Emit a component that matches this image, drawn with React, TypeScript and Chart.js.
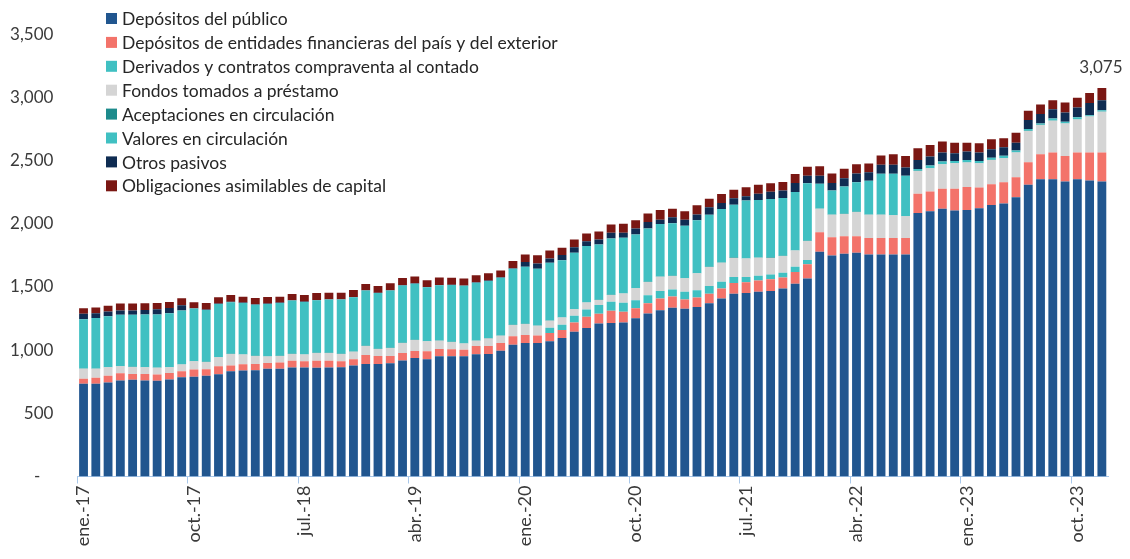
import { useEffect, useRef } from "react";
import { Chart, registerables } from "chart.js";

Chart.register(...registerables);

// ---- Data (miles de millones) ----
const MONTHS = ["ene.", "feb.", "mar.", "abr.", "may.", "jun.", "jul.", "ago.", "sept.", "oct.", "nov.", "dic."];
const YEARS = ["17", "18", "19", "20", "21", "22", "23"];
const categories: string[] = YEARS.flatMap((y) => MONTHS.map((m) => `${m}-${y}`));
const LABEL_EVERY = 9;

const depositosPublico = [
  734, 734, 744, 760, 765, 760, 757, 768, 786, 789, 797, 810,
  833, 839, 841, 852, 852, 862, 862, 860, 862, 865, 878, 891,
  891, 896, 917, 938, 928, 951, 951, 951, 967, 970, 996, 1043,
  1056, 1056, 1070, 1096, 1146, 1175, 1211, 1214, 1219, 1253, 1290, 1316,
  1335, 1327, 1342, 1371, 1408, 1447, 1453, 1461, 1468, 1487, 1526, 1566,
  1778, 1749, 1762, 1770, 1757, 1757, 1757, 1757, 2085, 2098, 2119, 2104,
  2109, 2122, 2148, 2161, 2209, 2308, 2353, 2353, 2335, 2353, 2342, 2335,
];
const depositosEntidades = [
  39, 47, 53, 58, 47, 52, 50, 52, 47, 57, 52, 63,
  45, 49, 50, 47, 50, 53, 50, 55, 53, 47, 50, 71,
  63, 58, 60, 55, 63, 58, 55, 52, 66, 63, 60, 66,
  63, 60, 66, 63, 73, 89, 77, 97, 84, 79, 81, 92,
  89, 74, 74, 76, 79, 84, 84, 89, 92, 87, 92, 113,
  155, 144, 139, 131, 131, 131, 131, 131, 152, 158, 158, 173,
  181, 165, 165, 168, 160, 179, 197, 210, 202, 210, 221, 228,
];
const derivados = [
  0, 0, 0, 0, 0, 0, 0, 0, 0, 0, 0, 0,
  0, 0, 0, 0, 0, 0, 0, 0, 0, 0, 0, 0,
  0, 0, 0, 0, 0, 0, 0, 0, 0, 0, 0, 0,
  0, 0, 42, 42, 53, 58, 70, 71, 71, 63, 63, 60,
  55, 60, 58, 60, 55, 47, 42, 39, 39, 39, 42, 34,
  0, 0, 0, 0, 0, 0, 0, 0, 0, 0, 0, 0,
  0, 0, 0, 0, 0, 0, 0, 0, 0, 0, 0, 0,
];
const fondosPrestamo = [
  79, 71, 68, 55, 55, 53, 53, 45, 53, 66, 58, 71,
  92, 77, 63, 50, 52, 55, 53, 63, 63, 58, 60, 71,
  55, 63, 79, 87, 79, 66, 58, 50, 42, 60, 58, 89,
  87, 76, 55, 58, 52, 55, 38, 55, 74, 95, 105, 113,
  108, 108, 134, 150, 150, 152, 147, 142, 131, 131, 129, 150,
  186, 179, 176, 192, 184, 184, 179, 171, 181, 184, 194, 202,
  194, 192, 192, 189, 194, 247, 231, 252, 257, 262, 286, 323,
];
const aceptaciones = [
  2, 2, 2, 2, 2, 2, 2, 2, 2, 2, 2, 2,
  2, 2, 2, 2, 2, 2, 2, 2, 2, 2, 2, 2,
  2, 2, 2, 2, 2, 2, 2, 2, 2, 2, 2, 2,
  2, 2, 2, 2, 2, 2, 2, 2, 2, 2, 2, 2,
  2, 2, 2, 2, 2, 2, 2, 2, 2, 2, 2, 2,
  2, 2, 2, 2, 2, 2, 2, 2, 2, 2, 2, 2,
  2, 2, 2, 2, 2, 2, 2, 2, 2, 2, 2, 2,
];
const valoresCirculacion = [
  391, 401, 401, 404, 410, 415, 420, 425, 425, 415, 409, 420,
  407, 406, 404, 415, 417, 420, 414, 414, 420, 428, 428, 436,
  441, 452, 454, 444, 425, 436, 449, 454, 457, 452, 457, 444,
  452, 450, 457, 450, 444, 444, 438, 444, 439, 423, 421, 415,
  415, 413, 418, 413, 423, 418, 457, 455, 463, 457, 460, 455,
  195, 190, 216, 234, 266, 321, 326, 318, 14, 19, 19, 16,
  19, 16, 16, 19, 14, 14, 11, 16, 11, 16, 8, 11,
];
const otrosPasivos = [
  42, 37, 37, 34, 34, 36, 42, 42, 42, 3, 3, 3,
  3, 3, 3, 3, 3, 3, 3, 3, 3, 3, 3, 3,
  3, 3, 3, 3, 3, 3, 3, 3, 3, 3, 3, 3,
  37, 42, 34, 42, 45, 39, 39, 45, 39, 47, 52, 34,
  47, 47, 45, 58, 47, 52, 32, 50, 58, 60, 71, 60,
  63, 58, 66, 68, 68, 71, 71, 66, 71, 71, 71, 60,
  66, 66, 66, 66, 63, 71, 74, 74, 74, 76, 97, 79,
];
const obligacionesCapital = [
  44, 45, 47, 56, 56, 53, 49, 47, 55, 47, 52, 49,
  54, 47, 50, 52, 47, 49, 52, 55, 52, 52, 55, 50,
  52, 55, 55, 53, 53, 58, 55, 55, 55, 58, 55, 58,
  60, 64, 63, 58, 60, 60, 63, 66, 73, 66, 68, 76,
  68, 68, 74, 68, 71, 68, 71, 71, 68, 68, 71, 71,
  76, 76, 74, 74, 68, 74, 84, 92, 92, 92, 87, 84,
  71, 74, 79, 71, 79, 74, 76, 71, 79, 79, 79, 97,
];

const seriesNames = [
  "Depósitos del público",
  "Depósitos de entidades financieras del país y del exterior",
  "Derivados y contratos compraventa al contado",
  "Fondos tomados a préstamo",
  "Aceptaciones en circulación",
  "Valores en circulación",
  "Otros pasivos",
  "Obligaciones asimilables de capital",
];
const seriesData = [
  depositosPublico,
  depositosEntidades,
  derivados,
  fondosPrestamo,
  aceptaciones,
  valoresCirculacion,
  otrosPasivos,
  obligacionesCapital,
];
const seriesColors = ["#21568f", "#f3736a", "#40c0c2", "#d5d5d5", "#1d8b8c", "#40c0c2", "#0f2c52", "#7a1713"];

const Y_MIN = 0;
const Y_MAX = 3500;
const Y_STEP = 500;

const FONT_FAMILY = "Lato, 'Open Sans', sans-serif";
const TEXT_COLOR = "#3a3a3a";
const AXIS_COLOR = "#a9c8ea";

const legendPlugin = {
  id: "customLegend",
  afterDraw(chart: any) {
    const ctx = chart.ctx;
    ctx.save();
    ctx.font = `17.5px ${FONT_FAMILY}`;
    ctx.textBaseline = "middle";
    ctx.textAlign = "left";
    chart.data.datasets.forEach((ds: any, i: number) => {
      const y = 18.5 + i * 23.9;
      ctx.fillStyle = ds.backgroundColor;
      ctx.fillRect(106, y - 5.5, 11, 11);
      ctx.fillStyle = "#262626";
      ctx.fillText(ds.label, 122, y + 1);
    });
    ctx.restore();
  },
};

const totalLabelPlugin = {
  id: "totalLabel",
  afterDraw(chart: any) {
    const last = categories.length - 1;
    const total = seriesData.reduce((s, arr) => s + arr[last], 0);
    const x = chart.scales.x.getPixelForValue(last);
    const y = chart.scales.y.getPixelForValue(total);
    const ctx = chart.ctx;
    ctx.save();
    ctx.font = `17px ${FONT_FAMILY}`;
    ctx.fillStyle = TEXT_COLOR;
    ctx.textAlign = "center";
    ctx.textBaseline = "middle";
    ctx.fillText(total.toLocaleString("en-US"), x - 1, y - 20);
    ctx.restore();
  },
};

export default function App() {
  const ref = useRef<HTMLCanvasElement>(null);

  useEffect(() => {
    document.body.style.margin = "0";
    const canvas = ref.current!;
    const chart = new Chart(canvas, {
      type: "bar",
      data: {
        labels: categories,
        datasets: seriesData.map((d, i) => ({
          label: seriesNames[i],
          data: d,
          backgroundColor: seriesColors[i],
          borderWidth: 0,
          stack: "total",
          categoryPercentage: 1,
          barPercentage: 0.72,
        })),
      },
      options: {
        animation: false,
        responsive: false,
        devicePixelRatio: 1,
        layout: { padding: { left: 0, right: 22, top: 33, bottom: 0 } },
        plugins: {
          legend: { display: false },
          tooltip: { enabled: false },
        },
        scales: {
          x: {
            stacked: true,
            offset: true,
            grid: {
              offset: true,
              drawOnChartArea: false,
              drawTicks: true,
              tickLength: 7,
              tickColor: (c: any) => (c.index % LABEL_EVERY === 0 ? AXIS_COLOR : "rgba(0,0,0,0)"),
            },
            border: { color: AXIS_COLOR, width: 1 },
            ticks: {
              autoSkip: false,
              maxRotation: 90,
              minRotation: 90,
              padding: 2,
              color: TEXT_COLOR,
              font: { family: FONT_FAMILY, size: 18 },
              callback: (_v: any, i: number) => (i % LABEL_EVERY === 0 ? categories[i] : ""),
            },
            afterFit: (s: any) => {
              s.height = 82.5;
            },
          },
          y: {
            stacked: true,
            min: Y_MIN,
            max: Y_MAX,
            grid: { display: false, drawTicks: false },
            border: { display: false },
            ticks: {
              stepSize: Y_STEP,
              padding: 24,
              color: TEXT_COLOR,
              font: { family: FONT_FAMILY, size: 17 },
              callback: (v: any) => (Number(v) === 0 ? "-   " : Number(v).toLocaleString("en-US")),
            },
            afterFit: (s: any) => {
              s.width = 77.4;
            },
          },
        },
      },
      plugins: [legendPlugin, totalLabelPlugin],
    });
    return () => chart.destroy();
  }, []);

  return (
    <div style={{ position: "absolute", left: 0, top: 0, width: 1130, height: 559, background: "#fff" }}>
      <canvas ref={ref} width={1130} height={559} style={{ width: 1130, height: 559, display: "block" }} />
    </div>
  );
}
